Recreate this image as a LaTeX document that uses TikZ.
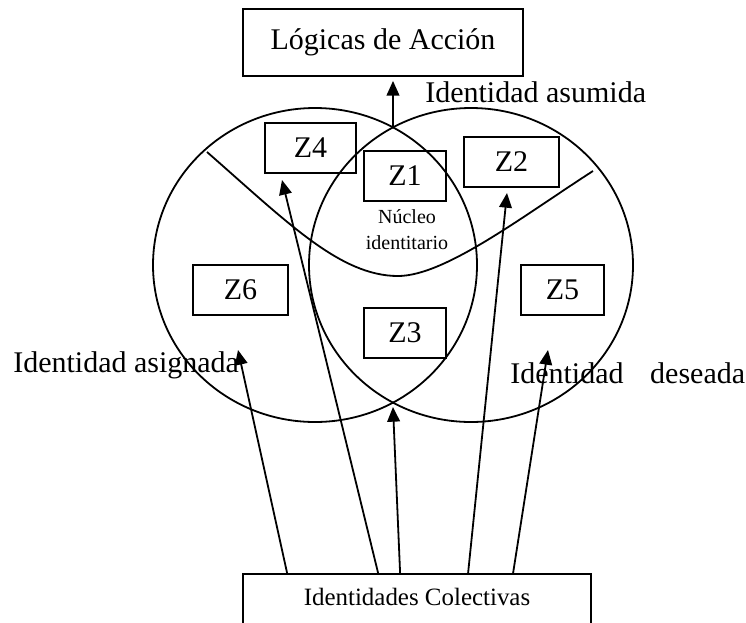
\documentclass[tikz,border=0pt]{standalone}
\usepackage{fontspec}
\setmainfont{Liberation Serif}
\usetikzlibrary{arrows.meta,calc}
\begin{document}
\begin{tikzpicture}[x=0.75pt,y=-0.75pt,
  lw/.style={line width=1.35pt},
  bigfont/.style={font=\fontsize{22.5}{27}\selectfont},
  zbox/.style={draw,lw,minimum height=37.5pt,inner sep=0pt,bigfont},
  lbl/.style={anchor=base west,inner sep=0pt,bigfont},
  arr/.style={lw,-{Triangle[length=11pt,width=9.5pt]}}]
\useasboundingbox (0,0) rectangle (746,622);
\clip (0,0) rectangle (746,622);
% circles
\draw[lw] (315,265) ellipse [x radius=162, y radius=157];
\draw[lw] (471,265) ellipse [x radius=162, y radius=157];
% curve
\draw[lw] (207,152) .. controls (287,222) and (340,276) .. (398,276)
                    .. controls (445,276) and (523,216) .. (593,171);
% boxes
\node[draw,lw,minimum width=210pt,minimum height=50.25pt,inner sep=0pt,bigfont] (la) at (383,42.5) {Lógicas de Acción};
\node[zbox,minimum width=68.25pt] (z4) at (310.5,148) {Z4};
\node[zbox,minimum width=61.5pt] (z1) at (405,176) {Z1};
\node[zbox,minimum width=71.25pt] (z2) at (511.5,162) {Z2};
\node[zbox,minimum width=71.25pt] (z6) at (240.5,290) {Z6};
\node[zbox,minimum width=61.5pt] (z3) at (405,333) {Z3};
\node[zbox,minimum width=62.25pt] (z5) at (562.5,290) {Z5};
\node[align=center,inner sep=0pt,font=\fontsize{15}{19.5}\selectfont] (nuc) at (407,230) {Núcleo\\identitario};
\node[draw,lw,minimum width=261pt,minimum height=60pt,anchor=north,inner sep=0pt] (ic) at (417,573) {};
\node[inner sep=0pt,font=\fontsize{18.7}{22}\selectfont] (ict) at (417,597) {Identidades Colectivas};
% labels
\node[lbl] (asu) at (425,102) {Identidad asumida};
\node[lbl] (asi) at (13,372) {Identidad asignada};
\node[lbl] (des) at (510,383) {Identidad\hspace*{20pt}deseada};
% arrow endpoints
\coordinate (top) at (393,127);
\coordinate (t6) at (238,350);
\coordinate (t4) at (282,180);
\coordinate (t3) at (393,407);
\coordinate (t2) at (507,193);
\coordinate (t5) at (548,350);
\coordinate (s6) at ($(ic.north west)+(45,0)$);
\coordinate (s4) at ($(ic.north west)+(136,0)$);
\coordinate (s3) at ($(ic.north west)+(158,0)$);
\coordinate (s2) at ($(ic.north west)+(226,0)$);
\coordinate (s5) at ($(ic.north west)+(271,0)$);
% arrows
\draw[arr] (top) -- ($(top |- la.south)+(0,4)$);
\draw[arr] (s6) -- (t6);
\draw[arr] (s4) -- (t4);
\draw[arr] (s3) -- (t3);
\draw[arr] (s2) -- (t2);
\draw[arr] (s5) -- (t5);
\end{tikzpicture}
\end{document}
